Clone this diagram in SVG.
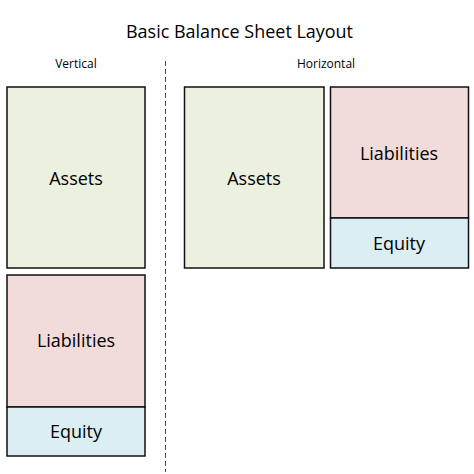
<svg xmlns="http://www.w3.org/2000/svg" width="474" height="474" viewBox="0 0 474 474">
<style>
text{font-family:"Open Sans","Liberation Sans",sans-serif;fill:#000;text-anchor:middle}
.t{font-size:19px}
.s{font-size:12px}
.l{font-size:18px}
.box{stroke:#111;stroke-width:1.5}
.a{fill:#EBF1DE}
.li{fill:#F2DCDB}
.e{fill:#DBEEF4}
</style>
<rect width="474" height="474" fill="#fff"/>
<text class="t" x="239.5" y="38" textLength="227" lengthAdjust="spacingAndGlyphs">Basic Balance Sheet Layout</text>
<text class="s" x="76" y="68">Vertical</text>
<text class="s" x="326" y="68">Horizontal</text>
<g id="divider"><line x1="165.5" y1="61" x2="165.5" y2="472" stroke="#444" stroke-width="1" stroke-dasharray="5,3"/></g>
<g id="v-assets"><rect class="box a" x="7" y="87" width="138" height="181"/><text class="l" x="76" y="185">Assets</text></g>
<g id="v-liabilities"><rect class="box li" x="7" y="275" width="138" height="132"/><text class="l" x="76" y="347">Liabilities</text></g>
<g id="v-equity"><rect class="box e" x="7" y="407" width="138" height="49"/><text class="l" x="76" y="438">Equity</text></g>
<g id="h-assets"><rect class="box a" x="184.5" y="87" width="139.5" height="181"/><text class="l" x="254" y="185">Assets</text></g>
<g id="h-liabilities"><rect class="box li" x="330.5" y="87" width="138" height="131"/><text class="l" x="399" y="160">Liabilities</text></g>
<g id="h-equity"><rect class="box e" x="330.5" y="218" width="138" height="50"/><text class="l" x="399" y="250">Equity</text></g>
</svg>
